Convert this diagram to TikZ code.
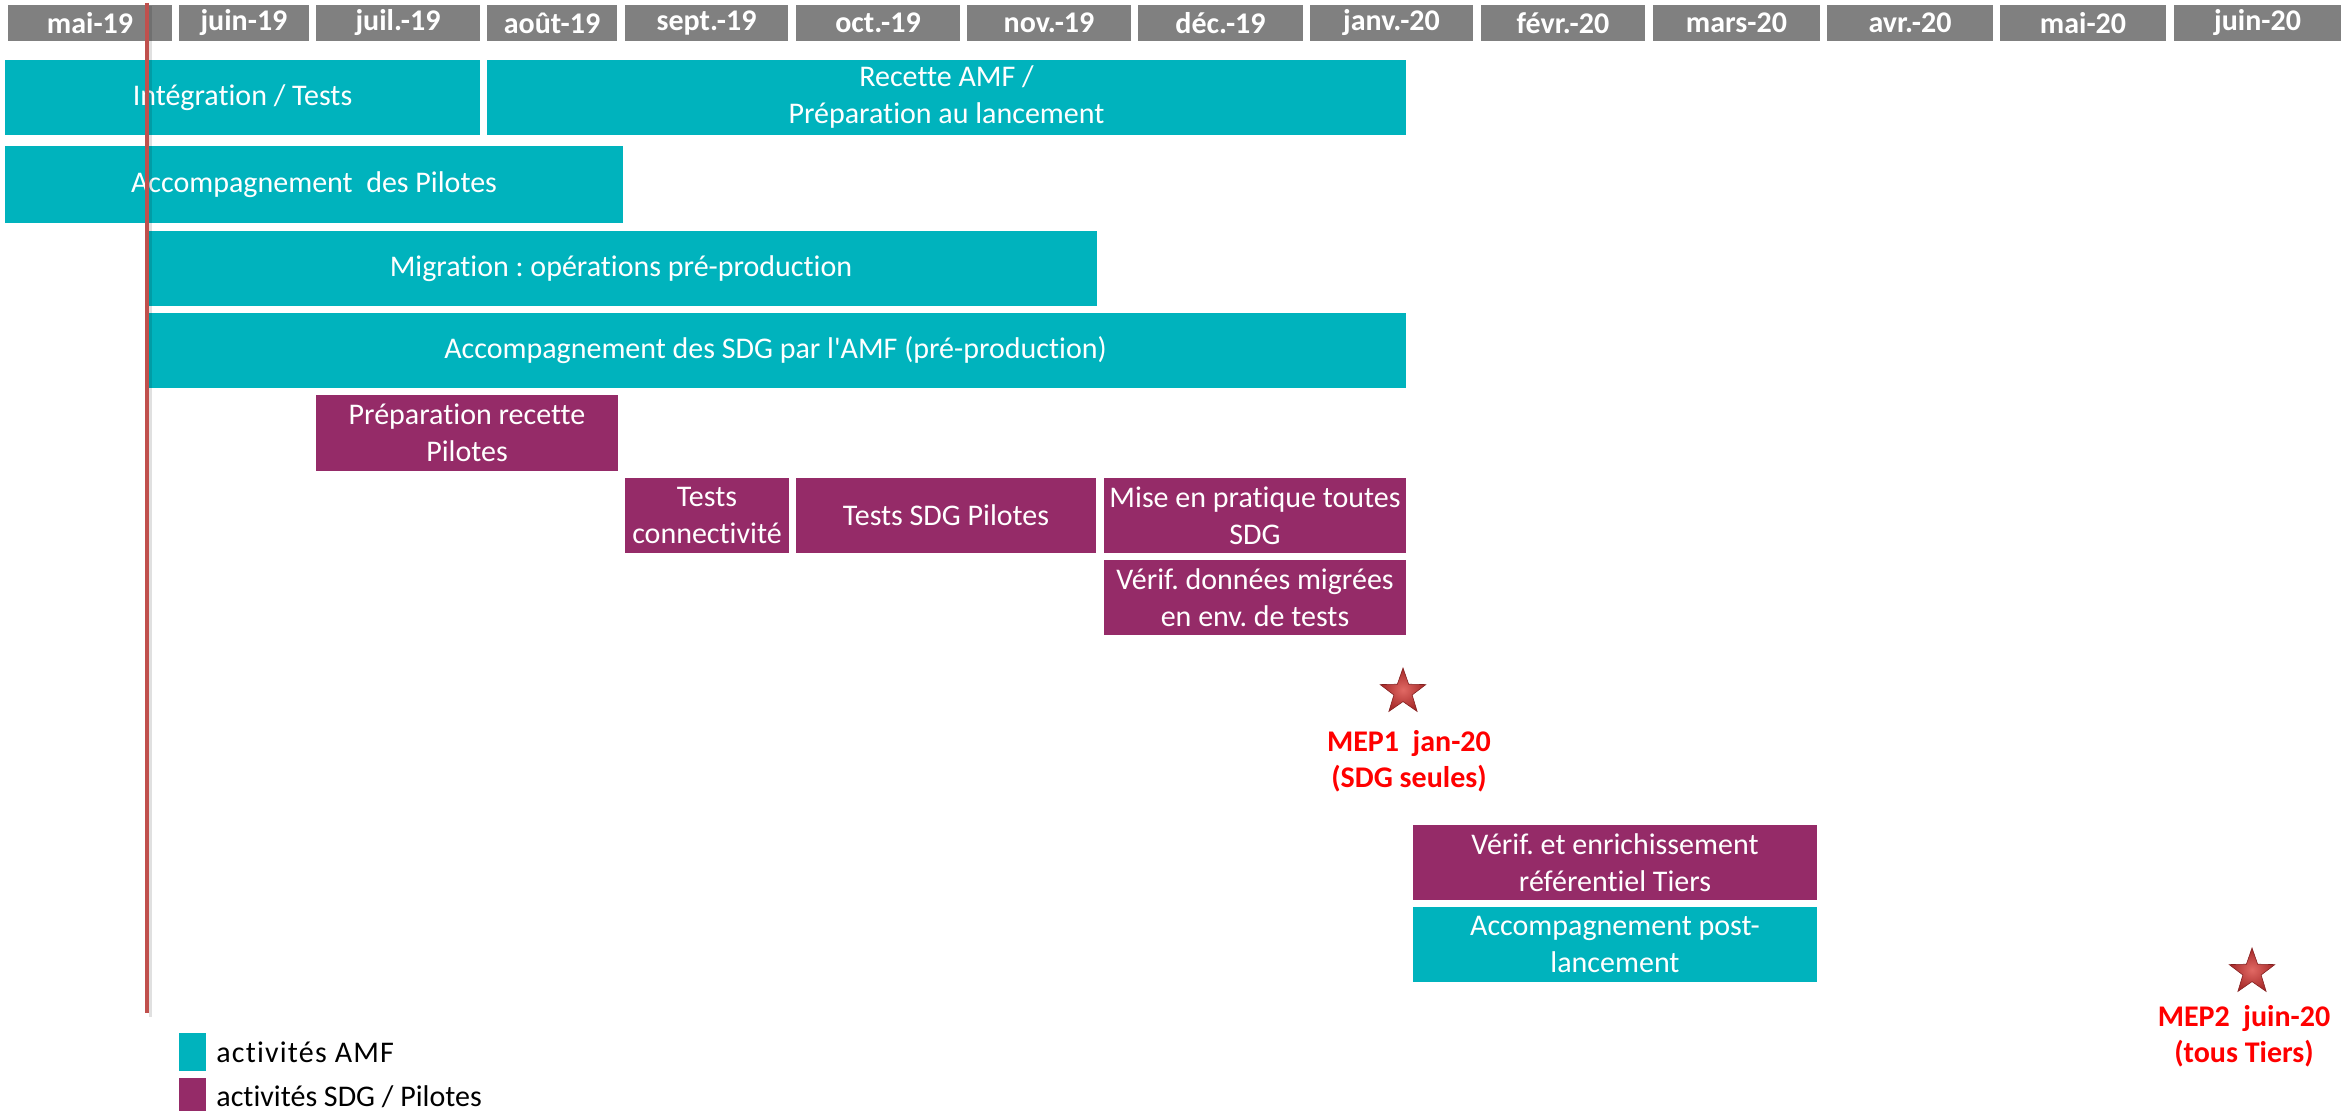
\documentclass[tikz,border=0pt]{standalone}
\usepackage{fontspec}
\setmainfont{Carlito}[Ligatures=NoCommon]
\newfontfamily\legspaced{Carlito}[Ligatures=NoCommon, LetterSpace=4]
\usetikzlibrary{shapes.geometric}
\definecolor{amfc}{RGB}{0,179,189}
\definecolor{sdgc}{RGB}{149,43,104}
\definecolor{hdrc}{RGB}{128,128,128}
\definecolor{redlinec}{RGB}{192,80,77}
\definecolor{mepc}{RGB}{255,0,0}
\definecolor{starin}{RGB}{225,105,100}
\definecolor{starout}{RGB}{165,40,40}
\newcommand{\ganttbox}[7]{%
  \node[#2, minimum width={(#5-#3)*0.5pt}, minimum height={(#6-#4)*0.5pt}] (#1) at ({(#3+#5)/2},{(#4+#6)/2}) {#7};}
\tikzset{
  basebox/.style={inner sep=0pt, outer sep=0pt, align=center, text=white, font=\fontsize{15}{18.5}\selectfont},
  amfbox/.style={basebox, fill=amfc},
  sdgbox/.style={basebox, fill=sdgc},
  hdrbox/.style={inner sep=0pt, outer sep=0pt, fill=hdrc, text=white, font=\bfseries\fontsize{15}{18}\selectfont},
  mepstar/.style={star, star points=5, star point ratio=2.5, minimum size=24pt, inner sep=0pt, shading=radial, inner color=starin, outer color=starout, draw=starout!80!black, line width=0.3pt},
  meptext/.style={align=center, text=mepc, font=\bfseries\fontsize{15}{18}\selectfont, inner sep=0pt},
  legsq/.style={inner sep=0pt, minimum width=13.5pt, minimum height=19pt},
  legtext/.style={anchor=west, inner sep=0pt, font=\fontsize{15}{18}\selectfont},
  todayline/.style={draw=redlinec, line width=2.4pt},
  todayshadow/.style={draw=black, opacity=0.12, line width=1.2pt}
}
\frenchspacing
\begin{document}
\begin{tikzpicture}[x=0.5pt, y=-0.5pt]
\frenchspacing
\useasboundingbox[fill=white] (0,0) rectangle (2341,1111);
% month headers
\ganttbox{h1}{hdrbox}{8}{5}{172}{41}{mai-19}
\ganttbox{h2}{hdrbox}{179}{5}{309}{41}{juin-19}
\ganttbox{h3}{hdrbox}{316}{5}{480}{41}{juil.-19}
\ganttbox{h4}{hdrbox}{487}{5}{617}{41}{août-19}
\ganttbox{h5}{hdrbox}{625}{5}{788}{41}{sept.-19}
\ganttbox{h6}{hdrbox}{796}{5}{960}{41}{oct.-19}
\ganttbox{h7}{hdrbox}{967}{5}{1131}{41}{nov.-19}
\ganttbox{h8}{hdrbox}{1138}{5}{1303}{41}{déc.-19}
\ganttbox{h9}{hdrbox}{1310}{5}{1473}{41}{janv.-20}
\ganttbox{h10}{hdrbox}{1481}{5}{1645}{41}{févr.-20}
\ganttbox{h11}{hdrbox}{1653}{5}{1820}{41}{mars-20}
\ganttbox{h12}{hdrbox}{1827}{5}{1993}{41}{avr.-20}
\ganttbox{h13}{hdrbox}{2000}{5}{2166}{41}{mai-20}
\ganttbox{h14}{hdrbox}{2174}{5}{2341}{41}{juin-20}
% activity bars
\ganttbox{integ}{amfbox}{5}{60}{480}{135}{Intégration / Tests}
\ganttbox{recette}{amfbox}{487}{60}{1406}{135}{Recette AMF /\\Préparation au lancement}
\ganttbox{accpil}{amfbox}{5}{146}{623}{223}{Accompagnement\ \ des Pilotes}
\ganttbox{migr}{amfbox}{145}{231}{1097}{306}{Migration : opérations pré-production}
\ganttbox{accsdg}{amfbox}{145}{313}{1406}{388}{Accompagnement des SDG par l\textquotesingle AMF (pré-production)}
\ganttbox{prep}{sdgbox}{316}{395}{618}{471}{Préparation recette\\Pilotes}
\ganttbox{tcon}{sdgbox}{625}{478}{789}{553}{Tests\\connectivité}
\ganttbox{tsdg}{sdgbox}{796}{478}{1096}{553}{Tests SDG Pilotes}
\ganttbox{mise}{sdgbox}{1104}{478}{1406}{553}{Mise en pratique toutes\\SDG}
\ganttbox{verif}{sdgbox}{1104}{560}{1406}{635}{Vérif. données migrées\\en env. de tests}
\ganttbox{enrich}{sdgbox}{1413}{825}{1817}{900}{Vérif. et enrichissement\\référentiel Tiers}
\ganttbox{post}{amfbox}{1413}{907}{1817}{982}{Accompagnement post-\\lancement}
% today line
\coordinate (lt) at (147,3);
\coordinate (lb) at (147,1013);
\coordinate (lts) at (150.5,6);
\coordinate (lbs) at (150.5,1017);
\draw[todayshadow] (lts) -- (lbs);
\draw[todayline] (lt) -- (lb);
% milestones
\node[mepstar] (star1) at (1403,692) {};
\node[meptext] (mep1) at (1409,761) {MEP1\ \ jan-20\\(SDG seules)};
\node[mepstar] (star2) at (2252,972) {};
\node[meptext] (mep2) at (2244,1036) {MEP2\ \ juin-20\\(tous Tiers)};
% legend
\node[legsq, fill=amfc] (lega) at (192.5,1052) {};
\node[legtext] (legat) at (216,1052) {\legspaced activités AMF};
\node[legsq, fill=sdgc] (legs) at (192.5,1097) {};
\node[legtext] (legst) at (216,1097) {activités SDG / Pilotes};
\end{tikzpicture}
\end{document}
